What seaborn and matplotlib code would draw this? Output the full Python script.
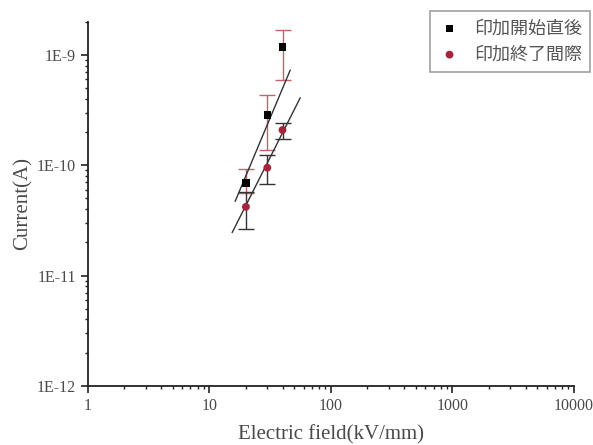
import numpy as np
import pandas as pd
import matplotlib
matplotlib.use("Agg")
import matplotlib.pyplot as plt
import seaborn as sns

# 印加開始直後 (start of application)
field_start = [20, 30, 40]
current_start = [6.9e-11, 2.86e-10, 1.18e-9]
err_lo_start = [1.3e-11, 1.48e-10, 5.9e-10]
err_hi_start = [2.4e-11, 1.44e-10, 5.1e-10]

# 印加終了間際 (end of application)
field_end = [20, 30, 40]
current_end = [4.2e-11, 9.5e-11, 2.09e-10]
err_lo_end = [1.55e-11, 2.7e-11, 3.5e-11]
err_hi_end = [1.5e-11, 2.8e-11, 3.1e-11]

# fitted lines as drawn
fit_x_start = [16.3, 46.3]
fit_y_start = [4.7e-11, 7.3e-10]
fit_x_end = [15.4, 56.0]
fit_y_end = [2.45e-11, 4.1e-10]

labels = ["印加開始直後", "印加終了間際"]
x_ticks = [1, 10, 100, 1000, 10000]
y_ticks = [1e-12, 1e-11, 1e-10, 1e-9]
y_tick_labels = ["1E-12", "1E-11", "1E-10", "1E-9"]

sns.set_style("ticks")
plt.rcParams["font.family"] = ["Liberation Serif", "Noto Sans CJK JP", "DejaVu Sans"]

red = "#a3263c"
err_red = "#c8606c"
txt = "#4a4a4a"

fig = plt.figure(figsize=(5.93, 4.45), dpi=100)
ax = fig.add_axes([0.148, 0.133, 0.82, 0.818])

df_start = pd.DataFrame({"field": field_start, "current": current_start})
df_end = pd.DataFrame({"field": field_end, "current": current_end})

ax.errorbar(field_start, current_start, yerr=[err_lo_start, err_hi_start], fmt="none",
            ecolor=err_red, elinewidth=1, capsize=6, capthick=1, zorder=2)
ax.errorbar(field_end, current_end, yerr=[err_lo_end, err_hi_end], fmt="none",
            ecolor="#333333", elinewidth=1, capsize=6, capthick=1, zorder=2)

sns.lineplot(x=fit_x_start, y=fit_y_start, ax=ax, color="#333333", linewidth=1, zorder=3)
sns.lineplot(x=fit_x_end, y=fit_y_end, ax=ax, color="#333333", linewidth=1, zorder=3)

sns.scatterplot(data=df_start, x="field", y="current", ax=ax, marker="s", s=30,
                color="black", edgecolor="none", zorder=4, label=labels[0])
sns.scatterplot(data=df_end, x="field", y="current", ax=ax, marker="o", s=32,
                color=red, edgecolor="none", zorder=4, label=labels[1])

ax.set_xscale("log")
ax.set_yscale("log")
ax.set_xlim(1, 10000)
ax.set_ylim(1e-12, 2e-9)
ax.set_xticks(x_ticks)
ax.set_xticklabels([str(v) for v in x_ticks])
ax.set_yticks(y_ticks)
ax.set_yticklabels(y_tick_labels)

sns.despine(ax=ax)
for s in ["left", "bottom"]:
    ax.spines[s].set_linewidth(1.3)
    ax.spines[s].set_color("#222222")
ax.tick_params(which="major", direction="out", length=5, width=1.2, colors="#222222",
               labelcolor=txt, labelsize=11.5)
ax.tick_params(which="minor", direction="out", length=2.5, width=1, colors="#222222")

ax.set_xlabel("Electric field(kV/mm)", fontsize=15, color=txt, labelpad=8)
ax.set_ylabel("Current(A)", fontsize=15, color=txt, labelpad=3)

# legend kept inside the figure so the labels are not clipped
leg = ax.legend(loc="upper right", bbox_to_anchor=(0.995, 0.975),
                bbox_transform=fig.transFigure, borderaxespad=0, frameon=True,
                fancybox=False, edgecolor="#888888", fontsize=13, handletextpad=0.7,
                borderpad=0.45, labelspacing=0.45, handlelength=1.3)
leg.get_frame().set_linewidth(1.2)
for t in leg.get_texts():
    t.set_color("#555555")
    t.set_family(["Noto Sans CJK JP", "DejaVu Sans"])

fig.savefig("out.png", dpi=100)
